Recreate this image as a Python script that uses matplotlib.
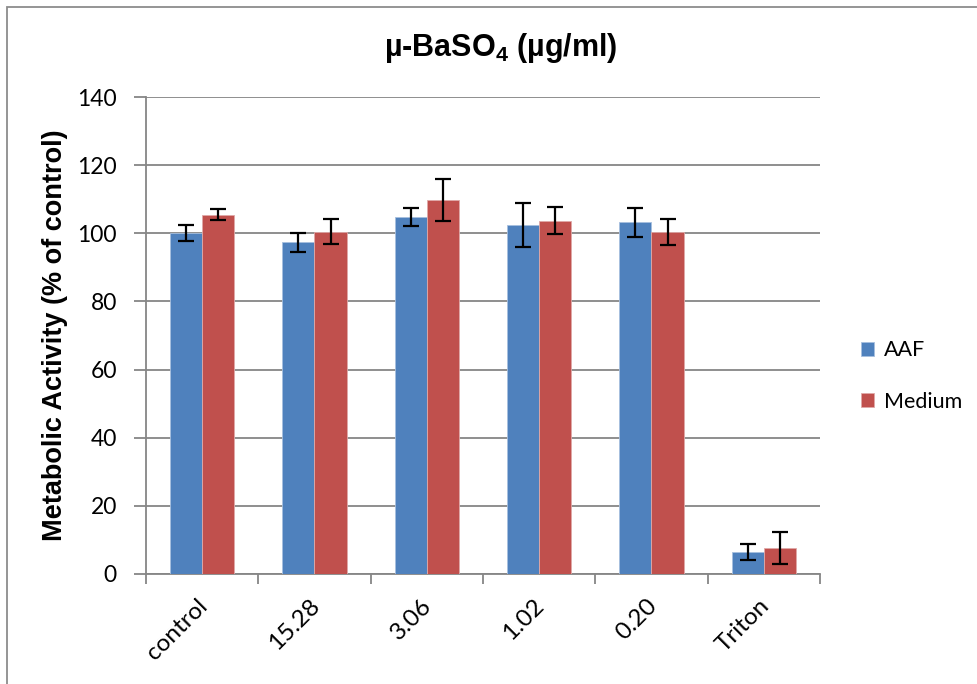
import matplotlib
matplotlib.use("Agg")
import matplotlib.pyplot as plt
import numpy as np
from matplotlib.patches import Rectangle

categories = ["control", "15.28", "3.06", "1.02", "0.20", "Triton"]
aaf_mean = [100.0, 97.3, 104.7, 102.4, 103.2, 6.4]
aaf_err = [2.4, 2.7, 2.6, 6.4, 4.2, 2.3]
medium_mean = [105.5, 100.5, 109.8, 103.7, 100.4, 7.6]
medium_err = [1.6, 3.6, 6.2, 4.0, 3.9, 4.6]
yticks = [0, 20, 40, 60, 80, 100, 120, 140]

blue = "#4F81BD"
red = "#C0504D"
grid_grey = "#868686"

W, H = 978, 684
fig = plt.figure(figsize=(W / 100, H / 100), dpi=100)

# outer chart border (runs past the right and bottom edges)
fig.patches.append(Rectangle((7.5 / W, -0.2), 1.2, 1.2 - 6.5 / H, transform=fig.transFigure,
                             fill=False, edgecolor="#8c8c8c", linewidth=1.3))

ax = fig.add_axes([146 / W, (H - 574) / H, (820 - 146) / W, (574 - 97) / H])

x = np.arange(len(categories))
bw = 0.285
ekw = dict(ecolor="black", elinewidth=1.6, capsize=5.5, capthick=1.6)
ax.bar(x - bw / 2, aaf_mean, bw, color=blue, edgecolor="#a7bfdf", linewidth=0.6,
       yerr=aaf_err, error_kw=ekw, label="AAF", zorder=3)
ax.bar(x + bw / 2, medium_mean, bw, color=red, edgecolor="#e0a9a8", linewidth=0.6,
       yerr=medium_err, error_kw=ekw, label="Medium", zorder=3)

ax.set_xlim(-0.5, len(categories) - 0.5)
ax.set_ylim(0, 140)
ax.set_yticks(yticks)
ax.yaxis.grid(True, color=grid_grey, linewidth=1.3, zorder=0)
ax.set_axisbelow(True)

for s in ["top", "right"]:
    ax.spines[s].set_visible(False)
for s in ["left", "bottom"]:
    ax.spines[s].set_color(grid_grey)
    ax.spines[s].set_linewidth(1.3)

ax.set_xticks(np.arange(len(categories) + 1) - 0.5)
ax.set_xticklabels([])
ax.set_xticks(x - 0.05, minor=True)
ax.set_xticklabels(categories, minor=True, rotation=45, ha="right", va="top",
                   rotation_mode="anchor", fontsize=17.5, family="Lato")
ax.tick_params(axis="x", which="major", direction="out", length=7, color=grid_grey, width=1.3)
ax.tick_params(axis="x", which="minor", length=0, pad=15)
ax.tick_params(axis="y", direction="out", length=9, color=grid_grey, width=1.3,
               labelsize=16.5, pad=12)
for t in ax.get_yticklabels():
    t.set_family("Lato")

ax.set_ylabel("Metabolic Activity (% of control)", fontsize=19.5, fontweight="bold",
              family="Liberation Sans")
ax.yaxis.set_label_coords((68 - 146) / 674, 0.5)

fig.text(0.512, (H - 48) / H, r"µ-BaSO$_\mathregular{4}$ (µg/ml)", ha="center", va="center",
         fontsize=22, fontweight="bold", family="Liberation Sans")

leg = fig.legend(loc="center left", bbox_to_anchor=(842 / W, (H - 376) / H), frameon=False,
                 prop={"family": "Lato", "size": 15.5}, handlelength=0.6,
                 handleheight=0.6, handletextpad=0.45, labelspacing=1.45)

fig.savefig("out.png", dpi=100)
